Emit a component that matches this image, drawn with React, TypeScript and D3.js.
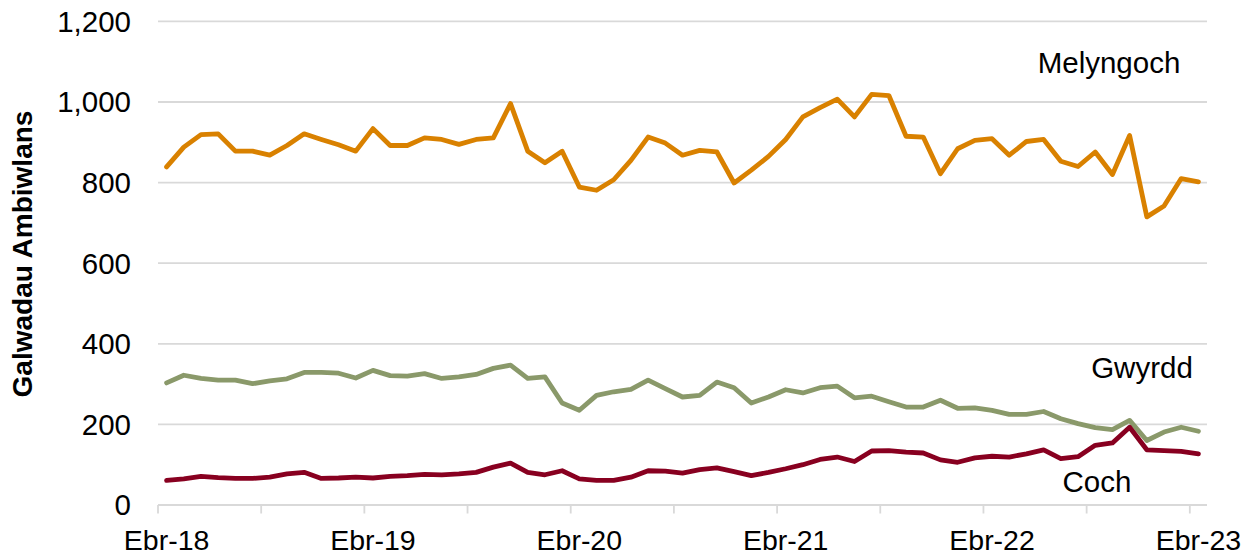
import React from "react";
import * as d3 from "d3";

const months: string[] = (() => {
  const names = ["Ebr", "Mai", "Meh", "Gor", "Aws", "Med", "Hyd", "Tach", "Rhag", "Ion", "Chwe", "Maw"];
  const out: string[] = [];
  for (let i = 0; i < 61; i++) {
    const yr = 18 + Math.floor((i + 3) / 12);
    out.push(`${names[i % 12]}-${yr}`);
  }
  return out;
})();

const melyngoch = [
  839, 888, 919, 921, 878, 878, 868, 892, 921, 907, 894, 878, 934, 892, 892, 911,
  907, 895, 907, 911, 996, 878, 849, 878, 789, 781, 807, 855, 913, 898, 868, 880,
  876, 799, 831, 865, 907, 963, 986, 1007, 963, 1019, 1016, 915, 913, 822, 884,
  905, 909, 868, 902, 907, 853, 840, 876, 820, 917, 715, 742, 810, 802,
];

const gwyrdd = [
  303, 322, 314, 310, 310, 301, 308, 313, 329, 329, 327, 315, 334, 321, 320, 326,
  314, 318, 324, 339, 347, 314, 318, 253, 235, 272, 281, 287, 310, 289, 268, 272,
  305, 291, 253, 268, 286, 278, 291, 295, 266, 270, 256, 243, 243, 260, 240,
  241, 235, 225, 225, 232, 214, 202, 192, 187, 210, 160, 181, 193, 183,
];

const coch = [
  61, 65, 71, 68, 66, 66, 69, 77, 81, 66, 67, 69, 67, 71, 73, 76,
  75, 77, 81, 94, 104, 81, 75, 85, 65, 61, 61, 69, 85, 84, 79, 88,
  92, 83, 73, 81, 90, 100, 113, 119, 108, 134, 135, 131, 129, 112, 106,
  117, 121, 119, 127, 137, 115, 120, 148, 154, 193, 137, 135, 133, 127,
];

const yTicks = [0, 200, 400, 600, 800, 1000, 1200];

const series = [
  { name: "Melyngoch", values: melyngoch, color: "#D98100", lx: 1109, ly: 73 },
  { name: "Gwyrdd", values: gwyrdd, color: "#8A996A", lx: 1142, ly: 378 },
  { name: "Coch", values: coch, color: "#880020", lx: 1097, ly: 492 },
];

export default function App() {
  const W = 1254, H = 556;
  const left = 158, right = 1207, top = 21.4, bottom = 505;
  const x = d3.scaleBand<number>().domain(d3.range(months.length)).range([left, right]).paddingInner(0).paddingOuter(0);
  const bw = x.bandwidth();
  const cx = (i: number) => (x(i) as number) + bw / 2;
  const y = d3.scaleLinear().domain([0, 1200]).range([bottom, top]);
  const line = d3.line<number>().x((_, i) => cx(i)).y((d) => y(d)).curve(d3.curveLinear);
  const font = "Arial, 'Liberation Sans', sans-serif";
  const tickIdx = d3.range(0, months.length, 6);
  const labelIdx = d3.range(0, months.length, 12);

  return (
    <svg width={W} height={H} style={{ position: "absolute", left: 0, top: 0, background: "#fff" }} fontFamily={font}>
      {yTicks.map((t) => (
        <g key={t}>
          {t > 0 && <line x1={left} x2={right} y1={y(t)} y2={y(t)} stroke="#D9D9D9" strokeWidth={1.8} />}
          <text x={131} y={y(t)} dy="0.355em" textAnchor="end" fontSize={29.5} fill="#000">
            {d3.format(",")(t)}
          </text>
        </g>
      ))}
      <line x1={left} x2={right} y1={bottom} y2={bottom} stroke="#D9D9D9" strokeWidth={1.8} />
      {tickIdx.map((i) => (
        <line key={i} x1={x(i)} x2={x(i)} y1={bottom} y2={bottom + 8.5} stroke="#D9D9D9" strokeWidth={1.8} />
      ))}
      {labelIdx.map((i) => (
        <text key={i} x={cx(i)} y={550} textAnchor="middle" fontSize={28.5} fill="#000">
          {months[i]}
        </text>
      ))}
      <text transform={`translate(32,254) rotate(-90)`} textAnchor="middle" fontSize={28} fontWeight="bold" fill="#000">
        Galwadau Ambiwlans
      </text>
      {series.map((s) => (
        <path key={s.name} d={line(s.values) || ""} fill="none" stroke={s.color} strokeWidth={4.8} strokeLinejoin="round" strokeLinecap="round" />
      ))}
      {series.map((s) => (
        <text key={s.name + "l"} x={s.lx} y={s.ly} textAnchor="middle" fontSize={29.5} fill="#000">
          {s.name}
        </text>
      ))}
    </svg>
  );
}
